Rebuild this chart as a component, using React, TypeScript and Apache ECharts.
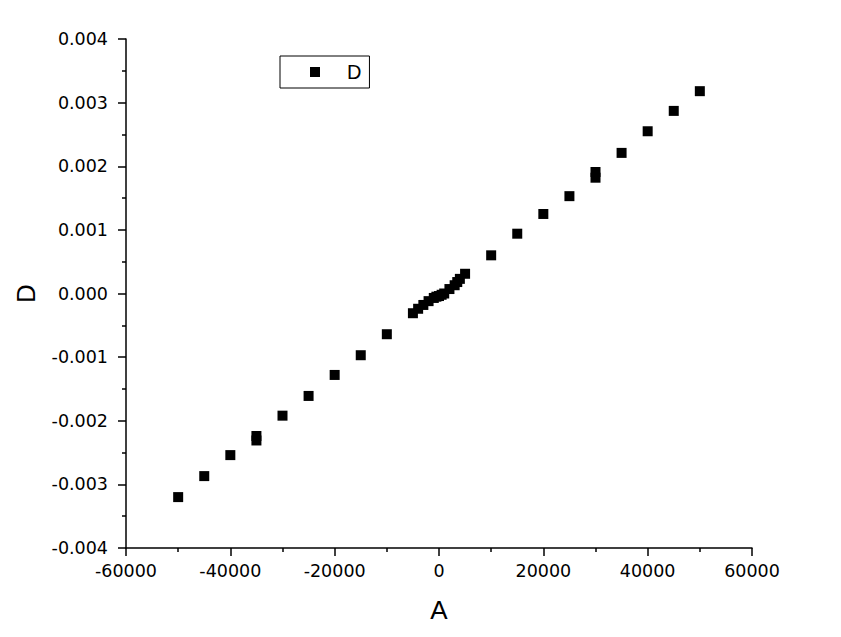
import React, { useEffect, useRef } from "react";
import * as echarts from "echarts";

const seriesName = "D";
const xValues = [
  -50000, -45000, -40000, -35000, -35000, -30000, -25000, -20000, -15000, -10000,
  -5000, -4000, -3000, -2000, -1000, -500, 0, 500, 1000, 2000, 3000, 3500, 4000, 5000,
  10000, 15000, 20000, 25000, 30000, 30000, 35000, 40000, 45000, 50000,
];
const yValues = [
  -0.0032, -0.00287, -0.00254, -0.00224, -0.00231, -0.00192, -0.00161, -0.00128, -0.00097, -0.00064,
  -0.00031, -0.00024, -0.00018, -0.00012, -0.00007, -0.00005, -0.00004, -0.00002, 0.0, 0.00007, 0.00013, 0.00018, 0.00023, 0.00031,
  0.0006, 0.00094, 0.00125, 0.00153, 0.00182, 0.00191, 0.00221, 0.00255, 0.00287, 0.00318,
];
const xAxisName = "A";
const yAxisName = "D";

const FONT = "'Liberation Sans', Arial, sans-serif";
const TICK_FONT = "'DejaVu Sans', 'Liberation Sans', sans-serif";

export default function App() {
  const ref = useRef<HTMLDivElement>(null);
  useEffect(() => {
    if (!ref.current) return;
    const chart = echarts.init(ref.current, null, { renderer: "svg" });
    const data = xValues.map((x, i) => [x, yValues[i]]);
    const axisCommon = {
      axisLine: { show: true, onZero: false, lineStyle: { color: "#000", width: 1.5 } },
      axisTick: { show: true, inside: false, length: 8, lineStyle: { color: "#000", width: 1.5 } },
      minorTick: { show: true, splitNumber: 2, length: 4, lineStyle: { color: "#000", width: 1.5 } },
      splitLine: { show: false },
      minorSplitLine: { show: false },
      nameLocation: "middle" as const,
      nameTextStyle: { color: "#000", fontSize: 26, fontFamily: FONT },
    };
    chart.setOption({
      animation: false,
      backgroundColor: "#fff",
      textStyle: { fontFamily: FONT },
      grid: { left: 126, right: 89, top: 39, bottom: 89 },
      legend: {
        show: true,
        left: 280,
        top: 56,
        data: [seriesName],
        icon: "rect",
        itemWidth: 10,
        itemHeight: 10,
        borderColor: "#000",
        borderWidth: 1,
        borderRadius: 0,
        padding: [6, 8, 6, 30],
        textStyle: { color: "#000", fontSize: 20, fontFamily: FONT, padding: [0, 0, 0, 22] },
      },
      xAxis: {
        type: "value",
        min: -60000,
        max: 60000,
        interval: 20000,
        name: xAxisName,
        nameGap: 49,
        ...axisCommon,
        axisLabel: {
          color: "#000",
          fontSize: 17.5,
          fontFamily: TICK_FONT,
          margin: 14,
          formatter: (v: number) => String(v),
        },
      },
      yAxis: {
        type: "value",
        min: -0.004,
        max: 0.004,
        interval: 0.001,
        name: yAxisName,
        nameGap: 87,
        ...axisCommon,
        axisLabel: {
          color: "#000",
          fontSize: 17.5,
          fontFamily: TICK_FONT,
          margin: 18,
          formatter: (v: number) => (Math.abs(v) < 1e-12 ? 0 : v).toFixed(3),
        },
      },
      series: [
        {
          name: seriesName,
          type: "scatter",
          symbol: "rect",
          symbolSize: 10,
          itemStyle: { color: "#000", opacity: 1 },
          data,
        },
      ],
    });
    return () => chart.dispose();
  }, []);
  return <div ref={ref} style={{ width: 841, height: 637, position: "absolute", left: 0, top: 0 }} />;
}
